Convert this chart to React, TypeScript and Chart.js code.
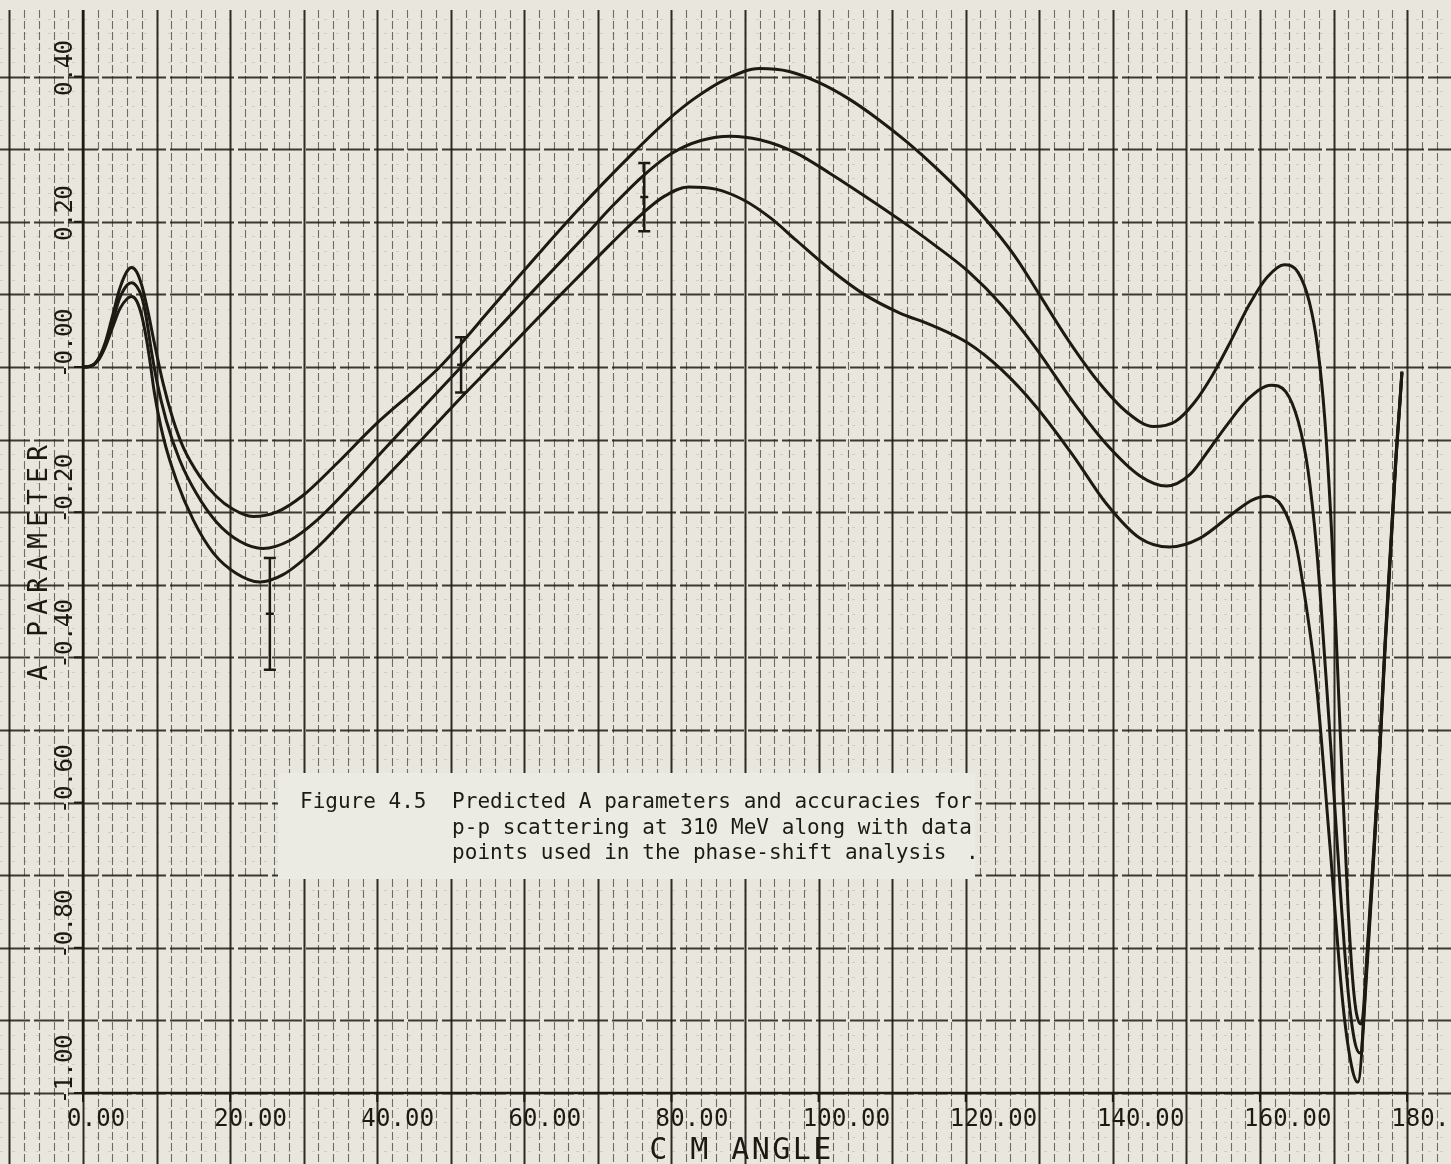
import { useEffect, useRef } from "react";
import { Chart, registerables } from "chart.js";

Chart.register(...registerables);

const W = 1451;
const H = 1164;

// Visible range of the graph paper (the plotted axes run 0..180 and -1..0.4)
const X_MIN = -11.283;
const X_MAX = 185.97;
const Y_MIN = -1.0978;
const Y_MAX = 0.5055;

const xTickValues = [0, 20, 40, 60, 80, 100, 120, 140, 160, 180];
const xTickLabels = ["0.00", "20.00", "40.00", "60.00", "80.00", "100.00", "120.00", "140.00", "160.00", "180.00"];
const yTickValues = [0.4, 0.2, 0, -0.2, -0.4, -0.6, -0.8, -1.0];
const yTickLabels = ["0.40", "0.20", "-0.00", "-0.20", "-0.40", "-0.60", "-0.80", "-1.00"];

const xTitle = "C M ANGLE";
const yTitle = "A PARAMETER";
const captionLabel = "Figure 4.5";
const captionLines = [
  "Predicted A parameters and accuracies for",
  "p-p scattering at 310 MeV along with data",
  "points used in the phase-shift analysis",
];

// Upper prediction curve
const upperX = [0, 1, 2, 3, 4, 5, 6, 6.6, 7.3, 8, 8.8, 9.7, 10.9, 12.2, 13.6, 15.9, 18.1, 20.4, 23.1, 26.3, 29.9, 34.4, 39.9, 45.3, 48.5, 51.2, 55, 59, 63, 67, 71, 75, 79, 83, 87.5, 92, 96, 100, 104, 108, 112, 116, 120, 124, 127, 130, 134, 138, 142, 145.5, 148.5, 151, 153.5, 156, 158.5, 161, 163.3, 165.2, 166.7, 167.8, 168.8, 169.8, 170.9, 172, 172.9, 173.8, 174.6, 175.5, 176.3, 177.0, 177.8, 178.5, 179.0, 179.3];
const upperY = [0, 0.001, 0.01, 0.033, 0.07, 0.108, 0.132, 0.137, 0.131, 0.112, 0.078, 0.033, -0.023, -0.071, -0.11, -0.151, -0.178, -0.196, -0.206, -0.2, -0.177, -0.134, -0.078, -0.03, 0, 0.03, 0.075, 0.122, 0.168, 0.213, 0.256, 0.297, 0.336, 0.369, 0.397, 0.411, 0.407, 0.392, 0.37, 0.342, 0.31, 0.274, 0.234, 0.188, 0.148, 0.1, 0.036, -0.02, -0.063, -0.082, -0.075, -0.05, -0.012, 0.035, 0.085, 0.124, 0.141, 0.13, 0.09, 0.03, -0.07, -0.24, -0.5, -0.75, -0.875, -0.905, -0.8, -0.66, -0.52, -0.38, -0.24, -0.12, -0.05, -0.006];

// Central prediction curve
const middleX = [0, 1, 2, 3, 4, 5, 6, 6.6, 7.3, 8, 8.6, 9.3, 10, 11.3, 13.1, 15.4, 18.1, 21.3, 24.5, 28.1, 31.7, 36.2, 40.8, 45.3, 51.4, 56.6, 60, 64, 68, 72, 76, 80, 84, 88, 92, 96.9, 101.5, 106.2, 111, 115.5, 120.3, 124.9, 129.6, 134.6, 139.1, 143.7, 147.3, 150.5, 153, 155.5, 158.5, 161.5, 163.5, 165.2, 166.5, 167.7, 169, 170, 171.8, 172.8, 173.6, 174.6, 175.5, 176.3, 177.0, 177.8, 178.5, 179.0, 179.3];
const middleY = [0, 0.001, 0.009, 0.03, 0.062, 0.095, 0.113, 0.116, 0.111, 0.096, 0.068, 0.022, -0.018, -0.073, -0.127, -0.174, -0.213, -0.24, -0.25, -0.239, -0.212, -0.166, -0.115, -0.066, 0, 0.055, 0.092, 0.135, 0.178, 0.222, 0.262, 0.294, 0.312, 0.318, 0.313, 0.295, 0.267, 0.236, 0.203, 0.17, 0.132, 0.085, 0.025, -0.048, -0.106, -0.15, -0.164, -0.148, -0.115, -0.08, -0.043, -0.025, -0.034, -0.075, -0.14, -0.25, -0.43, -0.58, -0.84, -0.925, -0.945, -0.81, -0.665, -0.525, -0.385, -0.245, -0.123, -0.052, -0.007];

// Lower prediction curve
const lowerX = [0, 1, 2, 3, 4, 5, 6, 6.6, 7.3, 8, 8.6, 9.1, 9.7, 10.9, 12.7, 15, 17.7, 20.8, 24, 27.2, 31.7, 36.2, 40.8, 45.3, 51.4, 56.6, 60, 64, 68, 72, 76, 79, 82.3, 86, 89.8, 93.5, 96.9, 101.5, 106.2, 110.9, 115.5, 120.3, 124.9, 129.6, 134.6, 139.1, 143.7, 147.7, 151.8, 156.4, 159, 161, 163, 164.8, 166.3, 167.7, 169.5, 171.3, 172.5, 173.3, 174.6, 175.5, 176.3, 177.0, 177.8, 178.5, 179.0, 179.3];
const lowerY = [0, 0.001, 0.008, 0.027, 0.054, 0.08, 0.094, 0.097, 0.091, 0.07, 0.04, 0.008, -0.035, -0.096, -0.156, -0.211, -0.256, -0.284, -0.296, -0.286, -0.25, -0.203, -0.156, -0.108, -0.042, 0.012, 0.048, 0.09, 0.131, 0.172, 0.211, 0.235, 0.248, 0.245, 0.23, 0.205, 0.175, 0.135, 0.1, 0.075, 0.057, 0.033, -0.004, -0.055, -0.122, -0.188, -0.236, -0.248, -0.236, -0.201, -0.183, -0.178, -0.192, -0.24, -0.33, -0.44, -0.658, -0.88, -0.965, -0.985, -0.82, -0.67, -0.53, -0.39, -0.25, -0.126, -0.054, -0.008];

// Measured data points with error bars
const dataX = [25.4, 51.4, 76.3];
const dataY = [-0.34, 0.003, 0.234];
const dataErr = [0.077, 0.038, 0.047];

const PAPER = "#e9e7dd";
const INK = "#1d1a14";
const MONO = '"DejaVu Sans Mono", "Liberation Mono", monospace';

function pts(xs: number[], ys: number[]) {
  return xs.map((x, i) => ({ x, y: ys[i] }));
}

function spaced(ctx: CanvasRenderingContext2D, text: string, x: number, y: number, adv: number) {
  ctx.textAlign = "center";
  for (let i = 0; i < text.length; i++) {
    ctx.fillText(text[i], x + (i + 0.5) * adv, y);
  }
}

const paperPlugin = {
  id: "paper",
  beforeDatasetsDraw(chart: any) {
    const ctx: CanvasRenderingContext2D = chart.ctx;
    const xs = chart.scales.x;
    const ys = chart.scales.y;
    ctx.save();
    ctx.fillStyle = PAPER;
    ctx.fillRect(0, 0, W, H);

    const top = 10;
    // horizontal lines (every 0.02, heavier every 0.1)
    for (let k = -55; k <= 25; k++) {
      const v = k * 0.02;
      const py = Math.round(ys.getPixelForValue(v)) + 0.5;
      if (py < top || py > H) continue;
      const major = k % 5 === 0;
      ctx.beginPath();
      if (major) {
        ctx.strokeStyle = "rgba(29,26,20,0.85)";
        ctx.lineWidth = 2;
        ctx.setLineDash([30, 4]);
      } else {
        ctx.strokeStyle = "rgba(29,26,20,0.12)";
        ctx.lineWidth = 1;
        ctx.setLineDash([3, 9]);
      }
      ctx.moveTo(0, py);
      ctx.lineTo(W, py);
      ctx.stroke();
    }
    // vertical lines (every 2 units, solid every 10)
    for (let k = -5; k <= 93; k++) {
      const v = k * 2;
      const px = Math.round(xs.getPixelForValue(v)) + 0.5;
      if (px < 0 || px > W) continue;
      const major = k % 5 === 0;
      ctx.beginPath();
      if (major) {
        ctx.strokeStyle = "rgba(29,26,20,0.92)";
        ctx.lineWidth = 2;
        ctx.setLineDash([]);
      } else {
        ctx.strokeStyle = "rgba(29,26,20,0.6)";
        ctx.lineWidth = 1.1;
        ctx.setLineDash([8, 3]);
      }
      ctx.moveTo(px, top);
      ctx.lineTo(px, H);
      ctx.stroke();
    }
    ctx.setLineDash([]);

    // caption panel (pasted over the paper)
    ctx.fillStyle = "#ecebe3";
    ctx.fillRect(278, 773, 697, 106);

    // axes
    const x0 = xs.getPixelForValue(0);
    const x180 = xs.getPixelForValue(180);
    const yBot = ys.getPixelForValue(-1);
    ctx.strokeStyle = INK;
    ctx.lineWidth = 2.5;
    ctx.beginPath();
    ctx.moveTo(x0, top);
    ctx.lineTo(x0, yBot);
    ctx.lineTo(x180, yBot);
    ctx.stroke();
    ctx.lineWidth = 2;
    xTickValues.forEach((v) => {
      const px = xs.getPixelForValue(v);
      ctx.beginPath();
      ctx.moveTo(px, yBot);
      ctx.lineTo(px, yBot + 9);
      ctx.stroke();
    });
    yTickValues.forEach((v) => {
      const py = ys.getPixelForValue(v);
      ctx.beginPath();
      ctx.moveTo(x0, py);
      ctx.lineTo(x0 - 9, py);
      ctx.stroke();
    });

    // tick labels
    ctx.fillStyle = INK;
    ctx.font = `24px ${MONO}`;
    ctx.textBaseline = "alphabetic";
    xTickValues.forEach((v, i) => {
      const px = xs.getPixelForValue(v);
      spaced(ctx, xTickLabels[i], px - 16, yBot + 33, 14.6);
    });
    yTickValues.forEach((v, i) => {
      const py = ys.getPixelForValue(v);
      const lab = yTickLabels[i];
      const off = lab.startsWith("-") ? 11 : 19;
      ctx.save();
      ctx.translate(x0 - 11, py + off);
      ctx.rotate(-Math.PI / 2);
      spaced(ctx, lab, 0, 0, 13.8);
      ctx.restore();
    });

    // axis titles
    ctx.font = `30px ${MONO}`;
    spaced(ctx, xTitle, 648, 1159, 20.5);
    ctx.save();
    ctx.translate(47, 684);
    ctx.rotate(-Math.PI / 2);
    ctx.font = `26px ${MONO}`;
    spaced(ctx, yTitle, 0, 0, 22);
    ctx.restore();

    // caption
    ctx.font = `21px ${MONO}`;
    ctx.textAlign = "left";
    ctx.fillText(captionLabel, 300, 808);
    captionLines.forEach((line, i) => {
      spaced(ctx, line, 452, 808 + i * 25.5, 12.68);
    });
    ctx.textAlign = "left";
    ctx.fillText(".", 966, 859);
    ctx.restore();
  },
  afterDatasetsDraw(chart: any) {
    const ctx: CanvasRenderingContext2D = chart.ctx;
    const ys = chart.scales.y;
    const meta = chart.getDatasetMeta(3);
    ctx.save();
    ctx.strokeStyle = INK;
    ctx.lineWidth = 2.5;
    meta.data.forEach((el: any, i: number) => {
      const px = el.x;
      const pyC = el.y;
      const pyT = ys.getPixelForValue(dataY[i] + dataErr[i]);
      const pyB = ys.getPixelForValue(dataY[i] - dataErr[i]);
      ctx.beginPath();
      ctx.moveTo(px, pyT);
      ctx.lineTo(px, pyB);
      ctx.moveTo(px - 6, pyT);
      ctx.lineTo(px + 6, pyT);
      ctx.moveTo(px - 6, pyB);
      ctx.lineTo(px + 6, pyB);
      ctx.moveTo(px - 4, pyC);
      ctx.lineTo(px + 4, pyC);
      ctx.stroke();
    });
    ctx.restore();
  },
};

export default function App() {
  const ref = useRef<HTMLCanvasElement | null>(null);
  useEffect(() => {
    if (!ref.current) return;
    const curve = (data: { x: number; y: number }[]) => ({
      type: "line" as const,
      data,
      borderColor: INK,
      borderWidth: 3,
      pointRadius: 0,
      fill: false,
      cubicInterpolationMode: "monotone" as const,
    });
    const chart = new Chart(ref.current, {
      type: "line",
      data: {
        datasets: [
          curve(pts(upperX, upperY)),
          curve(pts(middleX, middleY)),
          curve(pts(lowerX, lowerY)),
          {
            type: "scatter",
            data: pts(dataX, dataY),
            pointRadius: 0,
            borderColor: INK,
            backgroundColor: INK,
          } as any,
        ],
      },
      options: {
        animation: false,
        responsive: false,
        devicePixelRatio: 1,
        events: [],
        layout: { padding: 0 },
        parsing: false,
        plugins: { legend: { display: false }, tooltip: { enabled: false } },
        scales: {
          x: { type: "linear", min: X_MIN, max: X_MAX, display: false },
          y: { type: "linear", min: Y_MIN, max: Y_MAX, display: false },
        },
      } as any,
      plugins: [paperPlugin],
    });
    return () => chart.destroy();
  }, []);
  return (
    <div style={{ position: "fixed", left: 0, top: 0, width: W, height: H, background: PAPER }}>
      <canvas ref={ref} width={W} height={H} style={{ display: "block", width: W, height: H }} />
    </div>
  );
}
